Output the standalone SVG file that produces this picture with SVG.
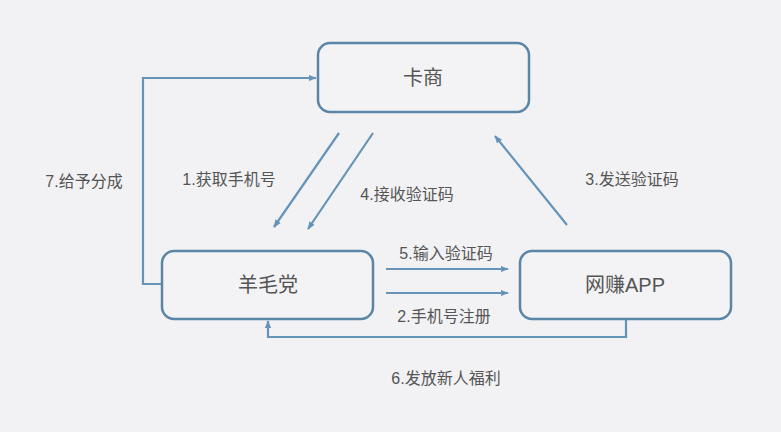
<svg xmlns="http://www.w3.org/2000/svg" width="781" height="432" viewBox="0 0 781 432">
<style>
.node{fill:#f3f3f5;stroke:#5a85a6;stroke-width:2.5}
.nt{font-family:"Liberation Sans","Noto Sans CJK SC",sans-serif;font-size:20px;fill:#555;text-anchor:middle;dominant-baseline:central}
.lt{font-family:"Liberation Sans","Noto Sans CJK SC",sans-serif;font-size:16px;fill:#555;text-anchor:middle;dominant-baseline:central}
.c{fill:none;stroke:#6594b8;stroke-width:2.2}
</style>
<defs>
<marker id="ah" viewBox="0 0 10 10" refX="9" refY="5" markerWidth="8" markerHeight="8" markerUnits="userSpaceOnUse" orient="auto">
<path d="M0,1 L10,5 L0,9 Z" fill="#6594b8"/>
</marker>
</defs>
<rect width="781" height="432" fill="#f2f2f4"/>
<g id="connectors">
<polyline class="c" points="162,284 143,284 143,78 316,78" marker-end="url(#ah)"/>
<line class="c" x1="339" y1="133" x2="274" y2="227" marker-end="url(#ah)"/>
<line class="c" x1="373" y1="133" x2="308" y2="229" marker-end="url(#ah)"/>
<line class="c" x1="567" y1="225" x2="495" y2="136" marker-end="url(#ah)"/>
<line class="c" x1="386" y1="269" x2="508" y2="269" marker-end="url(#ah)"/>
<line class="c" x1="386" y1="293" x2="508" y2="293" marker-end="url(#ah)"/>
<polyline class="c" points="626,320 626,337 268,337 268,321" marker-end="url(#ah)"/>
</g>
<g id="labels">
<text class="lt" x="229" y="179">1.获取手机号</text>
<text class="lt" x="407" y="194">4.接收验证码</text>
<text class="lt" x="632" y="179">3.发送验证码</text>
<text class="lt" x="84" y="181">7.给予分成</text>
<text class="lt" x="446" y="253">5.输入验证码</text>
<text class="lt" x="444" y="316">2.手机号注册</text>
<text class="lt" x="446" y="378">6.发放新人福利</text>
</g>
<g id="node-kashang">
<rect class="node" x="318" y="43" width="211" height="69" rx="12"/>
<text class="nt" x="423" y="78">卡商</text>
</g>
<g id="node-yangmaodang">
<rect class="node" x="162" y="251" width="211" height="68" rx="12"/>
<text class="nt" x="268" y="285">羊毛党</text>
</g>
<g id="node-app">
<rect class="node" x="520" y="251" width="211" height="68" rx="12"/>
<text class="nt" x="625" y="285">网赚APP</text>
</g>
</svg>
